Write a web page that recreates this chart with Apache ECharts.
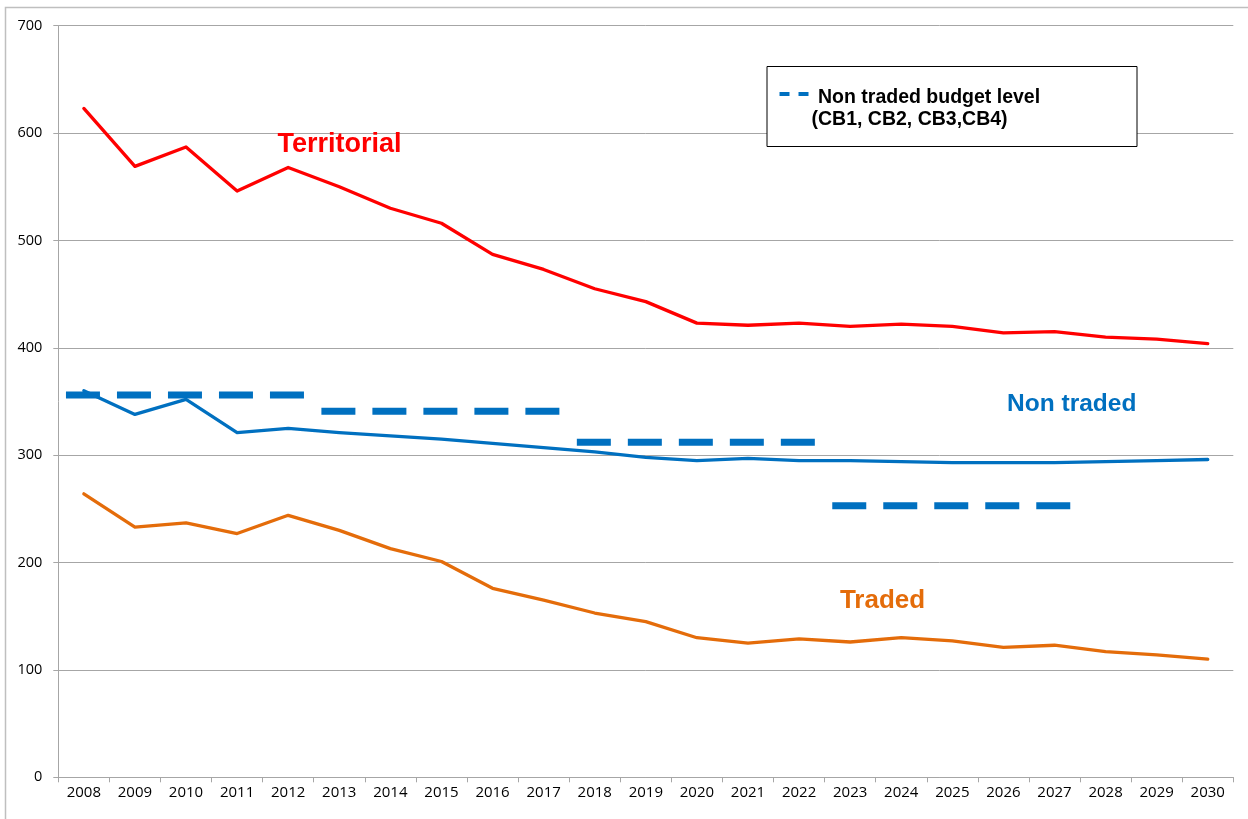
<!DOCTYPE html>
<html>
<head>
<meta charset="utf-8">
<script src="https://cdn.jsdelivr.net/npm/echarts@6/dist/echarts.min.js"></script>
<style>
html,body{margin:0;padding:0;background:#fff;}
#chart{width:1248px;height:819px;}
</style>
</head>
<body>
<div id="chart"></div>
<script>
var years = ['2008','2009','2010','2011','2012','2013','2014','2015','2016','2017','2018','2019','2020','2021','2022','2023','2024','2025','2026','2027','2028','2029','2030'];
var territorial = [623,569,587,546,568,550,530,516,487,473,455,443,423,421,423,420,422,420,414,415,410,408,404];
var nonTraded = [360,338,352,321,325,321,318,315,311,307,303,298,295,297,295,295,294,293,293,293,294,295,296];
var traded = [264,233,237,227,244,230,213,201,176,165,153,145,130,125,129,126,130,127,121,123,117,114,110];
var budgetNames = ['CB1','CB2','CB3','CB4'];
var budgetStart = ['2008','2013','2018','2023'];
var budgetEnd = ['2012','2017','2022','2027'];
var budgetLevels = [356,341,312,253];
var yTicks = [0,100,200,300,400,500,600,700];

var BLUE = '#0070C0', RED = '#FF0000', ORANGE = '#E46C0A';
var GRID = '#A6A6A6';

var chart = echarts.init(document.getElementById('chart'), null, {renderer:'canvas'});

var budgetSeries = budgetNames.map(function(n, i){
  var s = years.indexOf(budgetStart[i]) - 0.35;
  var e = years.indexOf(budgetEnd[i]) + 0.35;
  return {
    name: 'Non traded budget level ' + n,
    type: 'line',
    xAxisIndex: 1,
    symbol: 'none',
    silent: true,
    z: 1,
    lineStyle: {color: BLUE, width: 7, type: [34, 17], cap: 'butt'},
    data: [[s, budgetLevels[i]], [e, budgetLevels[i]]]
  };
});

function lineSeries(name, data, color){
  return {
    name: name, type: 'line', data: data, symbol: 'none', z: 3,
    lineStyle: {color: color, width: 3.3, cap: 'round', join: 'round'}
  };
}

var option = {
  animation: false,
  backgroundColor: '#fff',
  grid: {left: 58.3, right: 14.7, top: 25.7, bottom: 41.7, containLabel: false},
  xAxis: [{
    type: 'category',
    data: years,
    boundaryGap: true,
    axisLine: {show: true, onZero: false, lineStyle: {color: GRID, width: 1}},
    axisTick: {show: true, interval: 0, length: 5, lineStyle: {color: GRID}},
    axisLabel: {interval: 0, margin: 8, color: '#000', fontFamily: 'Open Sans', fontSize: 15},
    splitLine: {show: false}
  }, {
    type: 'value', min: -0.5, max: 22.5, show: false, gridIndex: 0,
    axisLine: {show: false, onZero: false}
  }],
  yAxis: {
    type: 'value', min: yTicks[0], max: yTicks[yTicks.length-1], interval: 100,
    axisLine: {show: true, onZero: false, lineStyle: {color: GRID, width: 1}},
    axisTick: {show: true, length: 5, lineStyle: {color: GRID}},
    axisLabel: {margin: 16, color: '#000', fontFamily: 'Open Sans', fontSize: 14.5},
    splitLine: {show: true, lineStyle: {color: GRID, width: 1}}
  },
  series: budgetSeries.concat([
    lineSeries('Territorial', territorial, RED),
    lineSeries('Non traded', nonTraded, BLUE),
    lineSeries('Traded', traded, ORANGE)
  ]),
  graphic: [
    {type: 'rect', silent: true, z: -1, shape: {x: 5.5, y: 7.5, width: 1400, height: 1000}, style: {fill: 'none', stroke: '#BFBFBF', lineWidth: 1.5}},
    {type: 'text', z: 10, x: 339.5, y: 145, style: {text: 'Territorial', fill: RED, font: 'bold 27px "Liberation Sans", Arial, sans-serif', textAlign: 'center', textVerticalAlign: 'middle'}},
    {type: 'text', z: 10, x: 1071.7, y: 404, style: {text: 'Non traded', fill: BLUE, font: 'bold 24.5px "Liberation Sans", Arial, sans-serif', textAlign: 'center', textVerticalAlign: 'middle'}},
    {type: 'text', z: 10, x: 882.5, y: 600.5, style: {text: 'Traded', fill: ORANGE, font: 'bold 26px "Liberation Sans", Arial, sans-serif', textAlign: 'center', textVerticalAlign: 'middle'}},
    {type: 'rect', z: 10, shape: {x: 767, y: 66.5, width: 370, height: 80}, style: {fill: '#fff', stroke: '#000', lineWidth: 1}},
    {type: 'rect', z: 11, shape: {x: 779.5, y: 92, width: 10, height: 4}, style: {fill: BLUE}},
    {type: 'rect', z: 11, shape: {x: 798.5, y: 92, width: 10, height: 4}, style: {fill: BLUE}},
    {type: 'text', z: 11, x: 818, y: 98, style: {text: 'Non traded budget level', fill: '#000', font: 'bold 19.5px "Liberation Sans", Arial, sans-serif', textAlign: 'left', textVerticalAlign: 'middle'}},
    {type: 'text', z: 11, x: 811.5, y: 120, style: {text: '(CB1, CB2, CB3,CB4)', fill: '#000', font: 'bold 19.5px "Liberation Sans", Arial, sans-serif', textAlign: 'left', textVerticalAlign: 'middle'}}
  ]
};
chart.setOption(option);
</script>
</body>
</html>
